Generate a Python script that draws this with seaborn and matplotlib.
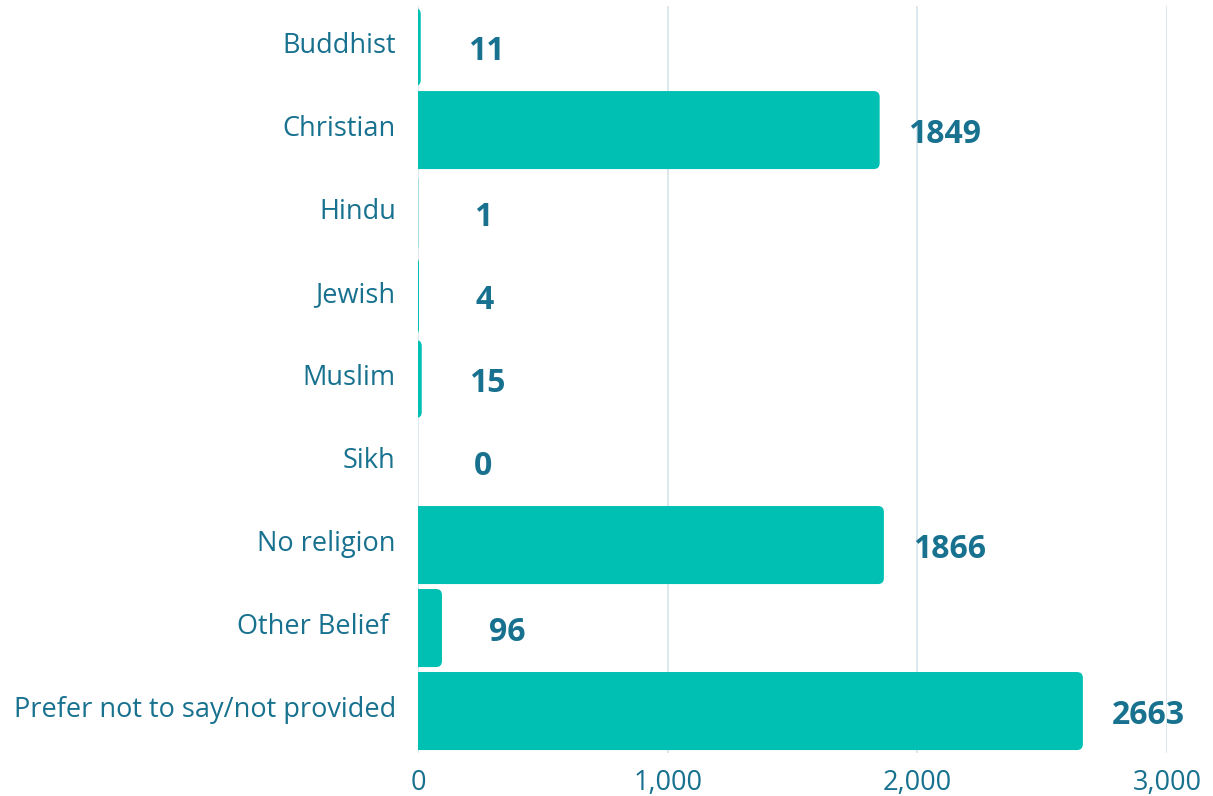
import matplotlib
matplotlib.use('Agg')
import matplotlib.pyplot as plt
import matplotlib.transforms as mtransforms
from matplotlib.patches import FancyBboxPatch
import pandas as pd
import seaborn as sns

religions = ['Buddhist', 'Christian', 'Hindu', 'Jewish', 'Muslim', 'Sikh',
             'No religion', 'Other Belief ', 'Prefer not to say/not provided']
counts = [11, 1849, 1, 4, 15, 0, 1866, 96, 2663]

df = pd.DataFrame({'religion': religions, 'count': counts})

bar_col = '#00BFB3'
text_col = '#17718F'

sns.set_style('white')
plt.rcParams['font.family'] = ['Open Sans', 'DejaVu Sans']

fig = plt.figure(figsize=(12.13, 7.96), dpi=100)
ax = fig.add_axes([0.3446, 0.0546, 0.9621 - 0.3446, 0.993 - 0.0546])

sns.barplot(data=df, x='count', y='religion', orient='h', color=bar_col,
            width=0.94, saturation=1, ax=ax)

ax.set_xlim(0, 3000)

# swap the plain bars for ones with rounded ends
r = 24
for p in list(ax.patches):
    x0, y0 = p.get_x(), p.get_y()
    w, h = p.get_width(), p.get_height()
    p.remove()
    if w <= 0:
        continue
    box = FancyBboxPatch((-60, y0), w + 60, h,
                         boxstyle=f'round,pad=0,rounding_size={r}',
                         mutation_aspect=0.003, fc=bar_col, ec='none', zorder=2)
    ax.add_patch(box)

for i, v in enumerate(counts):
    ax.annotate(str(v), (v, i), xytext=(47, -3), textcoords='offset points',
                ha='center', va='center', fontsize=23, fontweight='bold',
                color=text_col, annotation_clip=False)

ax.set_xticks([0, 1000, 2000, 3000])
ax.set_xticklabels(['0', '1,000', '2,000', '3,000'])
ax.xaxis.grid(True, color='#D6E4EA', linewidth=1.2)
ax.set_axisbelow(True)
for s in ax.spines.values():
    s.set_visible(False)
ax.tick_params(axis='y', length=0, pad=16, labelsize=19.5, labelcolor=text_col)
ax.tick_params(axis='x', length=0, pad=12, labelsize=19.5, labelcolor=text_col)
ax.set_xlabel('')
ax.set_ylabel('')

# category names sit a little above the bar centres
up = mtransforms.ScaledTranslation(0, 3 / 72, fig.dpi_scale_trans)
for lbl in ax.get_yticklabels():
    lbl.set_transform(lbl.get_transform() + up)

fig.savefig('out.png', dpi=100)
